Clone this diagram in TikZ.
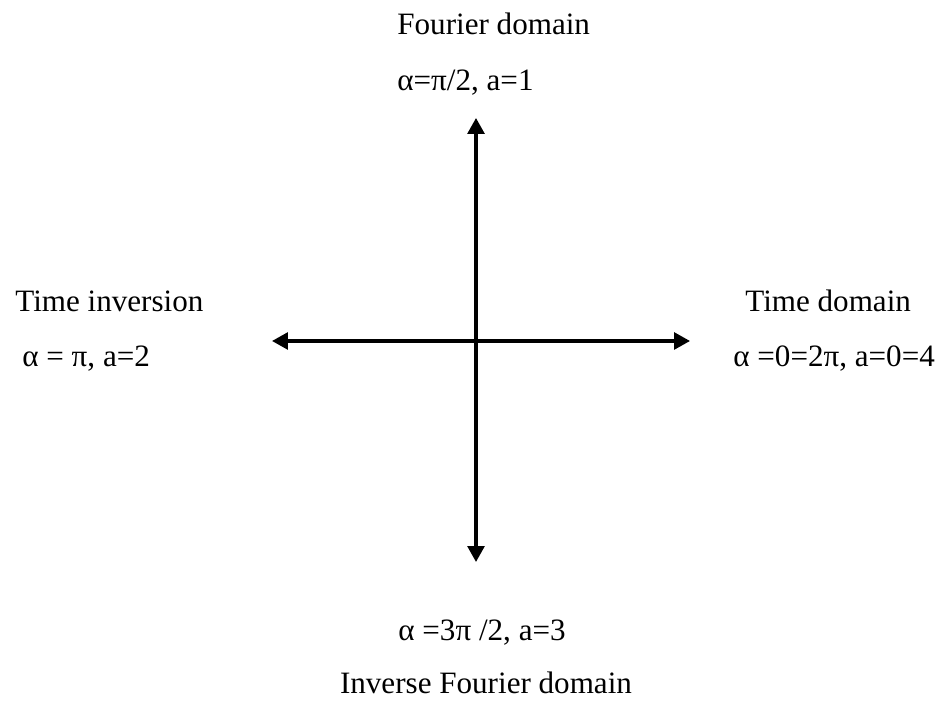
\documentclass[tikz,border=0pt]{standalone}
\usepackage{fontspec}
\setmainfont{Liberation Serif}
\usepackage{tikz}
\usetikzlibrary{arrows.meta}
\tikzset{lbl/.style={inner sep=0pt,anchor=base west,font=\fontsize{17.7}{21}\selectfont},
axis/.style={line width=1.8pt,{Triangle[length=9pt,width=9.5pt]}-{Triangle[length=9pt,width=9.5pt]}}}

\begin{document}
\begin{tikzpicture}
\useasboundingbox (0,0) rectangle (18.86,14.04);
\coordinate (west) at (5.44,7.22);
\coordinate (east) at (13.8,7.22);
\coordinate (north) at (9.52,11.68);
\coordinate (south) at (9.52,2.8);
\draw[axis] (west) -- (east);
\draw[axis] (south) -- (north);
\node[lbl] (fou) at (7.94,13.34) {Fourier domain};
\node[lbl] (foua) at (7.94,12.22) {α=π/2, a=1};
\node[lbl] (inv) at (0.30,7.80) {Time inversion};
\node[lbl] (inva) at (0.44,6.70) {α = π, a=2};
\node[lbl] (tim) at (14.90,7.80) {Time domain};
\node[lbl] (tima) at (14.66,6.70) {α =0=2π, a=0=4};
\node[lbl] (ifoa) at (7.96,1.22) {α =3π /2, a=3};
\node[lbl,anchor=base] (ifo) at (9.72,0.16) {Inverse Fourier domain};
\end{tikzpicture}
\end{document}
